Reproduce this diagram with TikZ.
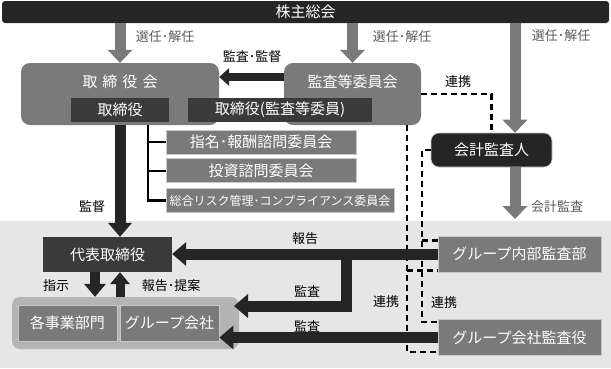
\documentclass[tikz,border=0pt]{standalone}
\usepackage{fontspec}
\setmainfont{Noto Sans CJK JP}
\usepackage{xcolor}
\usepackage{tikz}
\usetikzlibrary{arrows.meta,positioning,calc}

\definecolor{nearblack}{HTML}{252525}
\definecolor{darkbox}{HTML}{3A3A3A}
\definecolor{boxgray}{HTML}{7A7A7A}
\definecolor{arrowgray}{HTML}{7A7A7A}
\definecolor{labelgray}{HTML}{5A5A5A}
\definecolor{bandgray}{HTML}{E6E6E6}
\definecolor{contgray}{HTML}{B4B4B4}
\definecolor{lightline}{HTML}{C8C8C8}

\newcommand{\bigtxt}{\fontsize{15}{17}\selectfont}
\newcommand{\smalltxt}{\fontsize{13}{15}\selectfont}
\newcommand{\tinytxt}{\fontsize{12}{14}\selectfont}

\begin{document}
\begin{tikzpicture}[
  x=1pt, y=-1pt,
  bar/.style={fill=nearblack, rounded corners=3pt, minimum width=607pt, minimum height=22pt, text=white, font=\bigtxt, inner sep=0pt},
  council/.style={fill=boxgray, rounded corners=9pt, minimum height=62pt, inner sep=0pt},
  ctitle/.style={text=white, font=\bigtxt, inner sep=1pt},
  member/.style={fill=darkbox, minimum height=24pt, text=white, font=\bigtxt, inner sep=0pt},
  cmte/.style={fill=boxgray, draw=lightline, line width=0.8pt, minimum height=24pt, text=white, font=\bigtxt, inner sep=0pt},
  unit/.style={fill=boxgray, draw=lightline, line width=0.8pt, minimum height=36pt, text=white, font=\bigtxt, inner sep=0pt},
  darkunit/.style={fill=darkbox, minimum height=35pt, text=white, font=\bigtxt, inner sep=0pt},
  elect/.style={draw=arrowgray, line width=11pt, -{Triangle[length=13pt,width=25pt,line width=0pt]}},
  flow/.style={draw=nearblack, line width=11pt, -{Triangle[length=14pt,width=24pt,line width=0pt]}},
  link/.style={draw=black, line width=2.6pt, dash pattern=on 6pt off 4pt},
  tree/.style={draw=black, line width=2.6pt},
  glbl/.style={text=labelgray, font=\smalltxt, inner sep=1pt},
  lbl/.style={text=black, font=\smalltxt, inner sep=1pt}
]
\useasboundingbox (0,0) rectangle (611,368);

% lower band (group level)
\fill[bandgray] (0,221) rectangle (611,368);

\node[bar] (gm) at (305.5,12) {株主総会};

% board and audit committee
\node[council, minimum width=198pt] (board) at (120,94) {};
\node[ctitle] (boardtitle) at (120,82) {取\,\,締\,\,役\,\,会};
\node[council, minimum width=137pt] (ac) at (352.5,94) {};
\node[ctitle] (actitle) at (352.5,82) {監査等委員会};
\node[member, minimum width=98pt] (dir) at (120,110) {取締役};
\node[member, minimum width=184pt] (acdir) at (280,110) {取締役(監査等委員)};

% advisory committees
\node[cmte, minimum width=190pt] (nom) at (261,142) {指名･報酬諮問委員会};
\node[cmte, minimum width=190pt, below=4pt of nom] (inv) {投資諮問委員会};
\node[cmte, minimum width=228pt, anchor=north west, font=\tinytxt] (risk) at ([yshift=-5pt]inv.south west) {総合リスク管理･コンプライアンス委員会};

% accounting auditor
\node[fill=nearblack, draw=lightline, line width=0.6pt, rounded corners=8pt, minimum width=121pt, minimum height=34pt, text=white, font=\bigtxt, inner sep=0pt] (aud) at (491.5,150) {会計監査人};

% executive side
\node[darkunit, minimum width=129pt] (ceo) at (107.5,254.5) {代表取締役};
\node[fill=contgray, rounded corners=8pt, minimum width=227pt, minimum height=52pt] (grp) at (125.5,323) {};
\node[unit, minimum width=99pt] (div) at (67.5,323) {各事業部門};
\node[unit, minimum width=99pt] (gco) at (169.5,323) {グループ会社};

% internal audit side
\node[unit, minimum width=163pt] (ia) at (519.5,254) {グループ内部監査部};
\node[unit, minimum width=163pt] (gaud) at (519.5,337.5) {グループ会社監査役};

\coordinate (dA) at (407,125);
\coordinate (dB) at (422,150);
\coordinate (split) at (346,254);
\coordinate (audtip) at (234,306);
\coordinate (acctip) at (515,219);

% cooperation (dashed)
\draw[link] (ac.east) -| (aud.north);
\draw[link] (dA) |- ([yshift=4pt]gaud.south west);
\draw[link] (dA |- ia.south west) ++(0,-2) -- ([yshift=2pt]ia.south west);
\draw[link] (aud.west) -- (aud.west -| dB) |- ([yshift=-3pt]gaud.north west);
\draw[link] ([yshift=-5pt]ia.north west -| dB) -- ([yshift=-5pt]ia.north west);

% committee tree
\draw[tree] ([xshift=28pt]board.south) |- (risk.west);
\draw[tree] (nom.west) -- ++(-18,0);
\draw[tree] (inv.west) -- ++(-18,0);

% election arrows
\draw[elect] (gm.south -| board.south) -- (board.north);
\draw[elect] (gm.south -| ac.north) -- (ac.north);
\draw[elect] (gm.south -| acctip) -- (aud.north -| acctip);
\draw[elect] (aud.south -| acctip) -- (acctip);
\node[glbl] (el1) at (165,37) {選任･解任};
\node[glbl] (el2) at (402,37) {選任･解任};
\node[glbl] (el3) at (561,36) {選任･解任};
\node[glbl] (accl) at (557,207) {会計監査};

% supervision and reporting
\draw[draw=nearblack, line width=8pt, -{Triangle[length=10pt,width=18pt,line width=0pt]}] (ac.west |- 0,77) -- (board.east |- 0,77);
\node[lbl] (supl) at (252,57) {監査･監督};
\draw[flow] (board.south) -- (board.south |- ceo.north);
\node[lbl] (kan) at (92,207) {監督};
\draw[flow, line width=10pt, -{Triangle[length=13pt,width=22pt,line width=0pt]}] ([xshift=-12.5pt]ceo.south) -- ([xshift=-12.5pt]ceo.south |- grp.north);
\node[lbl] (shiji) at (56,286) {指示};
\draw[flow, line width=9pt, -{Triangle[length=12pt,width=20pt,line width=0pt]}] (grp.north -| board.south) -- (ceo.south -| board.south);
\node[lbl] (teian) at (171,286) {報告･提案};

\draw[flow] (ia.west) -- (ceo.east |- ia.west);
\node[lbl] (hok) at (305,239) {報告};
\draw[flow] (split) |- (audtip);
\node[lbl] (kansa1) at (307,291) {監査};
\draw[flow] (gaud.west) -- (gco.east |- gaud.west);
\node[lbl] (kansa2) at (307,326) {監査};

\node[lbl] (ren1) at (458,82) {連携};
\node[lbl] (ren2) at (386,302) {連携};
\node[lbl] (ren3) at (444,303) {連携};

\end{tikzpicture}
\end{document}
